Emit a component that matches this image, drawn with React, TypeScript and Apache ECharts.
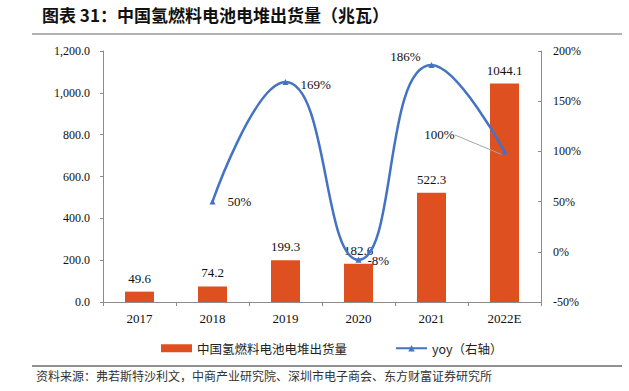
import React, { useEffect, useRef } from "react";
import * as echarts from "echarts";

const categories = ["2017", "2018", "2019", "2020", "2021", "2022E"];
const shipments = [49.6, 74.2, 199.3, 182.6, 522.3, 1044.1];
const yoy = [null, 50, 169, -8, 186, 100];
const leftTicks = [0, 200, 400, 600, 800, 1000, 1200];
const rightTicks = [-50, 0, 50, 100, 150, 200];

const serif = "Liberation Serif";
const cjk = "Noto Sans CJK SC";

export default function App() {
  const ref = useRef<HTMLDivElement>(null);
  useEffect(() => {
    document.body.style.margin = "0";
    if (!ref.current) return;
    const chart = echarts.init(ref.current, undefined, { renderer: "svg" });
    const yoyPositions: any[] = [
      null,
      { position: "right", distance: 12 },
      { position: "right", distance: 12 },
      { position: "right", distance: 6 },
      { position: "left", distance: 6 },
      { position: "top", distance: 5 },
    ];
    const yoyShift: any[] = [
      {},
      {},
      { dy: 2 },
      { dy: 1 },
      { dx: -2, dy: -9 },
      { dx: -65, dy: -2 },
    ];
    chart.setOption({
      animation: false,
      backgroundColor: "#ffffff",
      grid: { left: 103, right: 88, top: 51, bottom: 89 },
      graphic: [
        {
          type: "text",
          left: 42,
          top: 6,
          style: {
            text: "图表 31：中国氢燃料电池电堆出货量（兆瓦）",
            fontFamily: cjk,
            fontSize: 17,
            fontWeight: "bold",
            fill: "#111",
          },
        },
        {
          type: "line",
          shape: { x1: 32, y1: 34, x2: 622, y2: 34 },
          style: { stroke: "#666", lineWidth: 1.2 },
        },
        {
          type: "line",
          shape: { x1: 32, y1: 366, x2: 622, y2: 366 },
          style: { stroke: "#222", lineWidth: 1 },
        },
        {
          type: "text",
          left: 36,
          top: 369,
          style: {
            text: "资料来源：弗若斯特沙利文，中商产业研究院、深圳市电子商会、东方财富证券研究所",
            fontFamily: cjk,
            fontSize: 12,
            fill: "#333",
          },
        },
      ],
      legend: {
        left: 156,
        top: 337,
        itemGap: 48,
        itemWidth: 31,
        itemHeight: 8,
        textStyle: { fontFamily: cjk, fontSize: 12.5, color: "#222" },
        data: [
          { name: "中国氢燃料电池电堆出货量", icon: "rect" },
          { name: "yoy（右轴）" },
        ],
      },
      xAxis: {
        type: "category",
        data: categories,
        axisLine: { lineStyle: { color: "#8c8c8c" } },
        axisTick: { show: true, length: 4, lineStyle: { color: "#8c8c8c" } },
        axisLabel: { fontFamily: serif, fontSize: 13, color: "#111", margin: 10 },
      },
      yAxis: [
        {
          type: "value",
          min: leftTicks[0],
          max: leftTicks[leftTicks.length - 1],
          interval: 200,
          splitLine: { show: false },
          axisLine: { show: true, lineStyle: { color: "#8c8c8c" } },
          axisTick: { show: true, length: 3, lineStyle: { color: "#8c8c8c" } },
          axisLabel: {
            fontFamily: serif,
            fontSize: 12,
            color: "#111",
            margin: 13,
            formatter: (v: number) =>
              v.toLocaleString("en-US", { minimumFractionDigits: 1, maximumFractionDigits: 1 }),
          },
        },
        {
          type: "value",
          min: rightTicks[0],
          max: rightTicks[rightTicks.length - 1],
          interval: 50,
          splitLine: { show: false },
          axisLine: { show: true, lineStyle: { color: "#8c8c8c" } },
          axisTick: { show: true, inside: true, length: 3, lineStyle: { color: "#8c8c8c" } },
          axisLabel: {
            fontFamily: serif,
            fontSize: 12,
            color: "#111",
            margin: 12,
            formatter: (v: number) => `${v}%`,
          },
        },
      ],
      series: [
        {
          name: "中国氢燃料电池电堆出货量",
          type: "bar",
          data: shipments,
          barWidth: 29,
          itemStyle: { color: "#DF5020" },
          label: {
            show: true,
            position: "top",
            distance: 7,
            fontFamily: serif,
            fontSize: 13,
            color: "#111",
            formatter: (p: any) => p.value.toFixed(1),
          },
        },
        {
          name: "yoy（右轴）",
          type: "line",
          yAxisIndex: 1,
          smooth: 0.5,
          symbol: "triangle",
          symbolSize: 6,
          lineStyle: { color: "#4472C4", width: 2.5 },
          itemStyle: { color: "#4472C4" },
          labelLine: { show: true, lineStyle: { color: "#a6a6a6", width: 1 } },
          labelLayout: (p: any) => yoyShift[p.dataIndex] || {},
          data: yoy.map((v, i) =>
            v === null
              ? null
              : {
                  value: v,
                  label: {
                    show: true,
                    ...yoyPositions[i],
                    fontFamily: serif,
                    fontSize: 13,
                    color: "#111",
                    formatter: `${v}%`,
                  },
                  labelLine: { show: i === 5 },
                }
          ),
        },
      ],
    });
    return () => chart.dispose();
  }, []);
  return <div ref={ref} style={{ width: 629, height: 391 }} />;
}
